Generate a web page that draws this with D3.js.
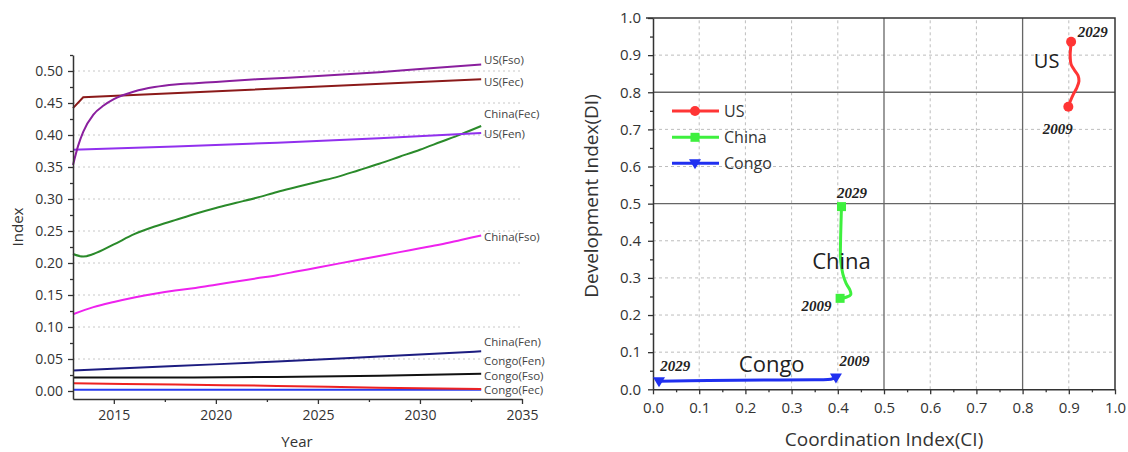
<!DOCTYPE html>
<html><head><meta charset="utf-8">
<script src="https://cdn.jsdelivr.net/npm/d3@7"></script>
<style>
html,body{margin:0;padding:0;background:#fff;}
svg{display:block;font-family:"Open Sans",sans-serif;}
</style></head><body>
<svg id="chart" width="1128" height="452"></svg>
<script>
// ================= LEFT CHART DATA =================
const yearsAnnual = [2013,2014,2015,2016,2017,2018,2019,2020,2021,2022,2023,2024,2025,2026,2027,2028,2029,2030,2031,2032,2033];
const yearsSparse = [2013,2018,2023,2028,2033];

const yearsUSFso = [2013,2013.25,2013.5,2014,2014.5,2015,2016,2017,2018,2019,2020,2022,2025,2028,2030,2033];
const usFso      = [0.353,0.383,0.405,0.432,0.446,0.456,0.468,0.475,0.479,0.481,0.483,0.487,0.492,0.498,0.503,0.510];

const yearsUSFec = [2013,2013.5,2033];
const usFec      = [0.442,0.459,0.487];

const usFen      = [0.377,0.382,0.388,0.395,0.403];           // yearsSparse

const yearsChinaFec = [2013,2013.5,2014,2015,2016,2017,2018,2019,2020,2021,2022,2023,2024,2025,2026,2027,2028,2029,2030,2031,2032,2033];
const chinaFec      = [0.214,0.210,0.214,0.229,0.245,0.257,0.267,0.277,0.286,0.294,0.302,0.311,0.319,0.327,0.335,0.345,0.355,0.366,0.377,0.389,0.401,0.414];

const chinaFso   = [0.120,0.131,0.139,0.146,0.152,0.157,0.161,0.166,0.171,0.176,0.181,0.187,0.193,0.199,0.205,0.211,0.217,0.223,0.229,0.236,0.243]; // yearsAnnual

const navySeries  = [0.032,0.039,0.046,0.054,0.062];           // yearsSparse
const blackSeries = [0.021,0.021,0.022,0.024,0.027];
const redSeries   = [0.012,0.010,0.008,0.005,0.003];
const blueSeries  = [0.002,0.002,0.002,0.002,0.002];

const leftLabels      = ["US(Fso)","US(Fec)","China(Fec)","US(Fen)","China(Fso)","China(Fen)","Congo(Fen)","Congo(Fso)","Congo(Fec)"];
const leftLabelValues = [0.518,0.484,0.434,0.402,0.242,0.078,0.047,0.025,0.003];

const xTicksLeft = [2015,2020,2025,2030,2035];
const xMinorLeft = [2017.5,2022.5,2027.5,2032.5];
const yTicksLeft = [0,0.05,0.10,0.15,0.20,0.25,0.30,0.35,0.40,0.45,0.50];
const yMinorLeft = [0.025,0.075,0.125,0.175,0.225,0.275,0.325,0.375,0.425,0.475,0.525];

// ================= RIGHT CHART DATA =================
const usCI    = [0.899,0.903,0.910,0.917,0.922,0.920,0.912,0.905,0.903,0.904,0.905];
const usDI    = [0.761,0.775,0.795,0.811,0.830,0.845,0.860,0.875,0.900,0.920,0.936];
const chinaCI = [0.405,0.418,0.428,0.426,0.418,0.411,0.406,0.406,0.407,0.408];
const chinaDI = [0.245,0.248,0.255,0.268,0.285,0.310,0.350,0.400,0.450,0.492];
const congoCI = [0.396,0.385,0.350,0.250,0.120,0.013];
const congoDI = [0.032,0.027,0.026,0.025,0.024,0.022];

const countries = ["US","China","Congo"];
const ticksRight = [0,0.1,0.2,0.3,0.4,0.5,0.6,0.7,0.8,0.9,1.0];
const minorRight = [0.05,0.15,0.25,0.35,0.45,0.55,0.65,0.75,0.85,0.95];
const strongGrid = [0.5,0.8];

// annotations: [text, CI, DI]
const annotYears = [["2029",0.952,0.963],["2009",0.876,0.701],["2029",0.431,0.528],["2009",0.354,0.224],["2029",0.048,0.063],["2009",0.436,0.076]];
const annotNames = [["US",0.852,0.885],["China",0.408,0.348],["Congo",0.257,0.072]];

// ================= DRAW =================
const svg = d3.select("#chart");

// ---------- Left ----------
const xL = d3.scaleLinear().domain([2013,2035]).range([73,522]);
const yL = d3.scaleLinear().domain([-0.0125,0.525]).range([399,55]);
const gL = svg.append("g");

gL.append("g").selectAll("line").data(yTicksLeft.filter(d=>d>0)).join("line")
  .attr("x1",xL(2013)).attr("x2",xL(2035))
  .attr("y1",d=>yL(d)).attr("y2",d=>yL(d))
  .attr("stroke","#c8c8c8").attr("stroke-width",1).attr("stroke-dasharray","2,3");

const leftSeries = [
  {x:yearsUSFso, y:usFso, c:"#8a1f9e", k:d3.curveMonotoneX},
  {x:yearsUSFec, y:usFec, c:"#8b1a1a", k:d3.curveLinear},
  {x:yearsSparse, y:usFen, c:"#9130ee", k:d3.curveMonotoneX},
  {x:yearsChinaFec, y:chinaFec, c:"#2a8a2a", k:d3.curveMonotoneX},
  {x:yearsAnnual, y:chinaFso, c:"#ee22ee", k:d3.curveMonotoneX},
  {x:yearsSparse, y:navySeries, c:"#1c1c80", k:d3.curveMonotoneX},
  {x:yearsSparse, y:blackSeries, c:"#111111", k:d3.curveMonotoneX},
  {x:yearsSparse, y:redSeries, c:"#ee2222", k:d3.curveMonotoneX},
  {x:yearsSparse, y:blueSeries, c:"#2a3cf0", k:d3.curveMonotoneX}
];
leftSeries.slice().reverse().forEach(s=>{
  const lineL = d3.line().x(d=>xL(d[0])).y(d=>yL(d[1])).curve(s.k);
  gL.append("path").datum(s.x.map((v,i)=>[v,s.y[i]]))
    .attr("d",lineL).attr("fill","none").attr("stroke",s.c).attr("stroke-width",2);
});

gL.append("g").selectAll("text").data(leftLabels).join("text")
  .attr("x",484).attr("y",(d,i)=>yL(leftLabelValues[i]))
  .attr("dominant-baseline","central").attr("font-size",11.5).attr("fill","#444")
  .text(d=>d);

function styleAxis(g){
  g.selectAll("path.domain").attr("stroke","#333").attr("stroke-width",1.5);
  g.selectAll(".tick line").attr("stroke","#333").attr("stroke-width",1.3);
  g.selectAll("text").attr("fill","#333").style("font-family","'Open Sans',sans-serif");
}
const axXL = gL.append("g").attr("transform","translate(0,399)")
  .call(d3.axisBottom(xL).tickValues(xTicksLeft).tickFormat(d3.format("d")).tickSize(5).tickSizeOuter(0).tickPadding(6));
axXL.selectAll("text").attr("font-size",14);
styleAxis(axXL);
const axXLm = gL.append("g").attr("transform","translate(0,399)")
  .call(d3.axisBottom(xL).tickValues(xMinorLeft).tickFormat("").tickSize(3).tickSizeOuter(0));
axXLm.select(".domain").remove(); styleAxis(axXLm);

const axYL = gL.append("g").attr("transform","translate(73,0)")
  .call(d3.axisLeft(yL).tickValues(yTicksLeft).tickFormat(d3.format(".2f")).tickSize(5).tickSizeOuter(0).tickPadding(5));
axYL.selectAll("text").attr("font-size",14);
styleAxis(axYL);
const axYLm = gL.append("g").attr("transform","translate(73,0)")
  .call(d3.axisLeft(yL).tickValues(yMinorLeft).tickFormat("").tickSize(3).tickSizeOuter(0));
axYLm.select(".domain").remove(); styleAxis(axYLm);

gL.append("text").attr("x",297).attr("y",441).attr("text-anchor","middle").attr("dominant-baseline","central")
  .attr("font-size",15).attr("fill","#333").text("Year");
gL.append("text").attr("transform","translate(17,227) rotate(-90)").attr("text-anchor","middle").attr("dominant-baseline","central")
  .attr("font-size",15).attr("fill","#333").text("Index");

// ---------- Right ----------
const xR = d3.scaleLinear().domain([0,1]).range([653,1115]);
const yR = d3.scaleLinear().domain([0,1]).range([389.3,18]);
const gR = svg.append("g");

const gridVals = ticksRight.filter(d=>d>0 && d<1);
gR.append("g").selectAll("line").data(gridVals.filter(d=>!strongGrid.includes(d))).join("line")
  .attr("x1",d=>xR(d)).attr("x2",d=>xR(d)).attr("y1",yR(0)).attr("y2",yR(1))
  .attr("stroke","#bdbdbd").attr("stroke-width",1).attr("stroke-dasharray","3,3");
gR.append("g").selectAll("line").data(gridVals.filter(d=>!strongGrid.includes(d))).join("line")
  .attr("y1",d=>yR(d)).attr("y2",d=>yR(d)).attr("x1",xR(0)).attr("x2",xR(1))
  .attr("stroke","#bdbdbd").attr("stroke-width",1).attr("stroke-dasharray","3,3");
gR.append("g").selectAll("line").data(strongGrid).join("line")
  .attr("x1",d=>xR(d)).attr("x2",d=>xR(d)).attr("y1",yR(0)).attr("y2",yR(1))
  .attr("stroke","#666").attr("stroke-width",1.3);
gR.append("g").selectAll("line").data(strongGrid).join("line")
  .attr("y1",d=>yR(d)).attr("y2",d=>yR(d)).attr("x1",xR(0)).attr("x2",xR(1))
  .attr("stroke","#666").attr("stroke-width",1.3);

// frame top/right
gR.append("path").attr("d",`M${xR(0)-7},${yR(1)}H${xR(1)}V${yR(0)}`)
  .attr("fill","none").attr("stroke","#333").attr("stroke-width",1.5);

const axXR = gR.append("g").attr("transform",`translate(0,${yR(0)})`)
  .call(d3.axisBottom(xR).tickValues(ticksRight).tickFormat(d3.format(".1f")).tickSize(5).tickSizeOuter(0).tickPadding(8));
axXR.selectAll("text").attr("font-size",15);
styleAxis(axXR);
const axXRm = gR.append("g").attr("transform",`translate(0,${yR(0)})`)
  .call(d3.axisBottom(xR).tickValues(minorRight).tickFormat("").tickSize(3).tickSizeOuter(0));
axXRm.select(".domain").remove(); styleAxis(axXRm);

const axYR = gR.append("g").attr("transform",`translate(${xR(0)},0)`)
  .call(d3.axisLeft(yR).tickValues(ticksRight).tickFormat(d3.format(".1f")).tickSize(5).tickSizeOuter(0).tickPadding(7));
axYR.selectAll("text").attr("font-size",15);
styleAxis(axYR);
const axYRm = gR.append("g").attr("transform",`translate(${xR(0)},0)`)
  .call(d3.axisLeft(yR).tickValues(minorRight).tickFormat("").tickSize(3).tickSizeOuter(0));
axYRm.select(".domain").remove(); styleAxis(axYRm);

gR.append("text").attr("x",884).attr("y",439).attr("text-anchor","middle").attr("dominant-baseline","central")
  .attr("font-size",19).attr("fill","#333").text("Coordination Index(CI)");
gR.append("text").attr("transform","translate(591,196) rotate(-90)").attr("text-anchor","middle").attr("dominant-baseline","central")
  .attr("font-size",19).attr("fill","#333").text("Development Index(DI)");

const rightSeries = [
  {name:"US", x:usCI, y:usDI, c:"#ff3535", m:"circle"},
  {name:"China", x:chinaCI, y:chinaDI, c:"#3ef03e", m:"square"},
  {name:"Congo", x:congoCI, y:congoDI, c:"#2030f0", m:"triangle"}
];
const lineR = d3.line().x(d=>xR(d[0])).y(d=>yR(d[1])).curve(d3.curveCatmullRom.alpha(0.5));
function marker(g, type, cx, cy, color){
  if(type==="circle") g.append("circle").attr("cx",cx).attr("cy",cy).attr("r",5).attr("fill",color);
  else if(type==="square") g.append("rect").attr("x",cx-4.5).attr("y",cy-4.5).attr("width",9).attr("height",9).attr("fill",color);
  else g.append("path").attr("d",`M${cx-6},${cy-4}L${cx+6},${cy-4}L${cx},${cy+6}Z`).attr("fill",color);
}
rightSeries.forEach(s=>{
  const pts = s.x.map((v,i)=>[v,s.y[i]]);
  gR.append("path").datum(pts).attr("d",lineR).attr("fill","none").attr("stroke",s.c).attr("stroke-width",3);
  [pts[0],pts[pts.length-1]].forEach(p=>marker(gR,s.m,xR(p[0]),yR(p[1]),s.c));
});

// legend
const legY = [111,137.3,163.3];
rightSeries.forEach((s,i)=>{
  gR.append("line").attr("x1",672).attr("x2",719).attr("y1",legY[i]).attr("y2",legY[i]).attr("stroke",s.c).attr("stroke-width",3);
  marker(gR,s.m,695,legY[i],s.c);
  gR.append("text").attr("x",724).attr("y",legY[i]).attr("dominant-baseline","central")
    .attr("font-size",16).attr("fill","#333").text(countries[i]);
});

gR.append("g").selectAll("text").data(annotYears).join("text")
  .attr("x",d=>xR(d[1])).attr("y",d=>yR(d[2])).attr("text-anchor","middle").attr("dominant-baseline","central")
  .style("font-family","'Liberation Serif',serif").attr("font-style","italic").attr("font-weight","bold")
  .attr("font-size",15).attr("fill","#222").text(d=>d[0]);
gR.append("g").selectAll("text").data(annotNames).join("text")
  .attr("x",d=>xR(d[1])).attr("y",d=>yR(d[2])).attr("text-anchor","middle").attr("dominant-baseline","central")
  .attr("font-size",(d,i)=>i===0?20:22).attr("fill","#222").text(d=>d[0]);
</script>
</body></html>
